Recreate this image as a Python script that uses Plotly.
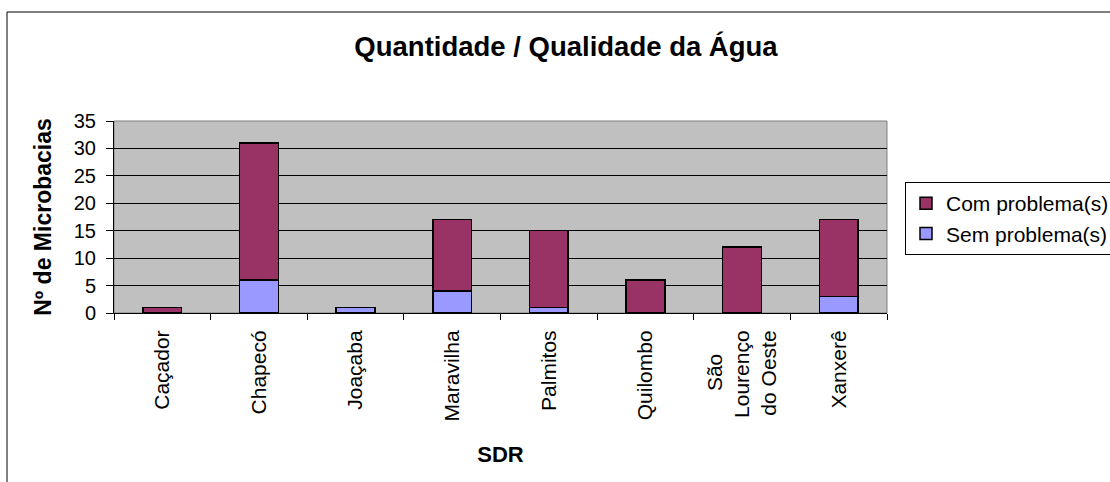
import plotly.graph_objects as go

categories = ["Caçador", "Chapecó", "Joaçaba", "Maravilha", "Palmitos",
              "Quilombo", "São Lourenço do Oeste", "Xanxerê"]
tick_labels = ["Caçador", "Chapecó", "Joaçaba", "Maravilha", "Palmitos",
               "Quilombo", "São\u00a0\u00a0\u00a0\u00a0<br>Lourenço<br>do Oeste",
               "Xanxerê"]
sem_problema = [0, 6, 1, 4, 1, 0, 0, 3]
com_problema = [1, 25, 0, 13, 14, 6, 12, 14]
y_ticks = [0, 5, 10, 15, 20, 25, 30, 35]

FONT = "Liberation Sans, Arial, sans-serif"

W, H = 1110, 482
L, R, T, B = 114, 887, 121, 313
pw, ph = R - L, B - T


def px2x(px):
    return (px - L) / pw


def px2y(py):
    return (B - py) / ph


fig = go.Figure()
fig.add_trace(go.Bar(
    x=categories, y=sem_problema, name="Sem problema(s)",
    marker=dict(color="#9999FF", line=dict(color="black", width=1.5)),
))
fig.add_trace(go.Bar(
    x=categories, y=com_problema, name="Com problema(s)",
    marker=dict(color="#993366", line=dict(color="black", width=1.5)),
))

fig.update_layout(
    width=W, height=H,
    margin=dict(l=L, r=W - R, t=T, b=H - B, pad=0, autoexpand=False),
    barmode="stack", bargap=0.6,
    paper_bgcolor="white", plot_bgcolor="#C0C0C0",
    font=dict(family=FONT, color="black", size=20),
    title=dict(text="<b>Quantidade / Qualidade da Água</b>",
               x=566 / W, xanchor="center", xref="container",
               y=1 - 46 / H, yanchor="middle", yref="container",
               font=dict(size=27.5, family=FONT, color="black")),
    showlegend=True,
    legend=dict(x=px2x(905), y=px2y(182), xanchor="left", yanchor="top",
                traceorder="reversed", bordercolor="black", borderwidth=1,
                bgcolor="white", font=dict(size=21, family=FONT),
                tracegroupgap=0),
    xaxis=dict(type="category", tickson="boundaries", ticks="outside",
               ticklen=6, tickcolor="black", tickwidth=1,
               showline=True, linecolor="black", linewidth=1,
               tickangle=-90, tickfont=dict(size=21, family=FONT),
               tickmode="array", tickvals=categories, ticktext=tick_labels,
               ticklabelstandoff=8, automargin=False,
               title=dict(text="<b>SDR</b>", font=dict(size=22, family=FONT),
                          standoff=26),
               showgrid=False),
    yaxis=dict(range=[0, 35], tickvals=y_ticks, ticks="outside",
               ticklen=7, tickcolor="black", tickwidth=1,
               showline=True, linecolor="black", linewidth=1,
               gridcolor="black", gridwidth=1, zeroline=False,
               tickfont=dict(size=20, family=FONT),
               ticklabelstandoff=6, automargin=False,
               title=dict(text="<b>Nº de Microbacias</b>",
                          font=dict(size=23, family=FONT), standoff=15)),
    shapes=[
        dict(type="rect", xref="paper", yref="paper",
             x0=0, x1=1, y0=0, y1=1,
             line=dict(color="#808080", width=1), layer="below"),
        dict(type="rect", xref="paper", yref="paper",
             x0=px2x(7), x1=px2x(1130), y0=px2y(500), y1=px2y(12),
             line=dict(color="black", width=1), layer="above"),
    ],
)

fig.write_html(
    "out.html",
    config={"displayModeBar": False},
    post_script="document.body.style.margin='0';"
                "document.body.style.overflow='hidden';",
)
